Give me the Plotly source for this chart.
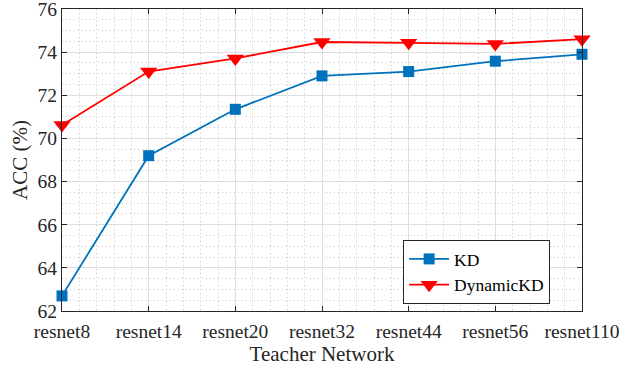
import plotly.graph_objects as go

categories = ["resnet8", "resnet14", "resnet20", "resnet32", "resnet44", "resnet56", "resnet110"]
kd = [62.7, 69.2, 71.35, 72.9, 73.1, 73.58, 73.9]
dynamic_kd = [70.62, 73.1, 73.71, 74.47, 74.43, 74.38, 74.6]
y_ticks = [62, 64, 66, 68, 70, 72, 74, 76]

x_idx = list(range(len(categories)))
FONT = "Liberation Serif"

fig = go.Figure()
fig.add_trace(go.Scatter(
    x=x_idx, y=kd, name="KD", mode="lines+markers",
    line=dict(color="#0072BD", width=1.8),
    marker=dict(symbol="square", size=11, color="#0072BD"),
    cliponaxis=False,
))
fig.add_trace(go.Scatter(
    x=x_idx, y=dynamic_kd, name="DynamicKD", mode="lines+markers",
    line=dict(color="#FF0000", width=1.8),
    marker=dict(symbol="triangle-down", size=15, color="#FF0000"),
    cliponaxis=False,
))

axis_common = dict(
    showline=True, linecolor="#262626", linewidth=1, mirror="ticks",
    ticks="inside", ticklen=5, tickcolor="#262626",
    showgrid=True, gridcolor="#dedede", gridwidth=1.3,
    zeroline=False, automargin=False, ticklabeloverflow="allow",
    tickfont=dict(family=FONT, size=19.5, color="#262626"),
)
minor_common = dict(showgrid=True, gridcolor="#c4c4c4", griddash="1px,3px", gridwidth=1, ticks="")

fig.update_xaxes(
    range=[0, len(categories) - 1],
    tickvals=x_idx, ticktext=categories,
    ticklabelstandoff=3,
    minor=dict(dtick=0.2, **minor_common),
    title=dict(text="Teacher Network", font=dict(family=FONT, size=21, color="#262626"), standoff=4),
    **axis_common,
)
fig.update_yaxes(
    range=[62, 76],
    tickvals=y_ticks,
    minor=dict(dtick=0.5, **minor_common),
    title=dict(text="ACC (%)", font=dict(family=FONT, size=21, color="#262626"), standoff=4),
    **axis_common,
)

fig.update_layout(
    width=619, height=368,
    margin=dict(l=62, r=37, t=9, b=57),
    plot_bgcolor="white", paper_bgcolor="white",
    showlegend=True,
    legend=dict(
        x=0.656, y=0.235, xanchor="left", yanchor="top",
        bgcolor="white", bordercolor="#262626", borderwidth=1,
        font=dict(family=FONT, size=17.5, color="#000000"),
        itemwidth=40, tracegroupgap=0,
    ),
)

fig.write_html(
    "out.html",
    config={"displayModeBar": False},
    post_script="document.body.style.margin='0';document.body.style.padding='0';",
)
